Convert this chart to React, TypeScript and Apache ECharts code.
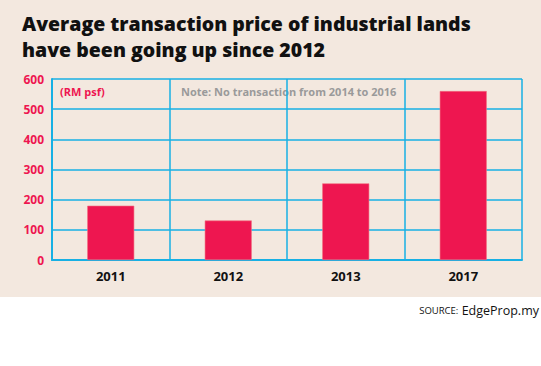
import React, { useEffect, useRef } from "react";
import * as echarts from "echarts";

const categories = ["2011", "2012", "2013", "2017"];
const prices = [180, 131, 254, 560];
const yTicks = [0, 100, 200, 300, 400, 500, 600];

export default function App() {
  const ref = useRef<HTMLDivElement>(null);
  useEffect(() => {
    document.body.style.margin = "0";
    const chart = echarts.init(ref.current!, null, { renderer: "svg" });
    const blue = "#17b0e4";
    chart.setOption({
      animation: false,
      backgroundColor: "#ffffff",
      graphic: [
        { type: "rect", z: -10, shape: { x: 0, y: 0, width: 541, height: 297 }, style: { fill: "#f3e8df" } },
        { type: "text", left: 22, top: 12, style: { text: "Average transaction price of industrial lands", font: "800 19.5px 'Open Sans'", fill: "#111", lineHeight: 22 } },
        { type: "text", left: 22, top: 38, style: { text: "have been going up since 2012", font: "800 19.5px 'Open Sans'", fill: "#111", lineHeight: 22 } },
        { type: "text", left: 60, top: 86, style: { text: "(RM psf)", font: "bold 11px 'Open Sans'", fill: "#ee1650" } },
        { type: "text", left: 181, top: 86, style: { text: "Note: No transaction from 2014 to 2016", font: "bold 11px 'Open Sans'", fill: "#9a9a9a" } },
        { type: "text", right: 2, top: 304, style: { rich: { a: { font: "9.5px 'Open Sans'", fill: "#111" }, b: { font: "12.5px 'Open Sans'", fill: "#111" } }, text: "{a|SOURCE:} {b|EdgeProp.my}" } },
      ],
      grid: { left: 52, top: 79, right: 19, bottom: 106, containLabel: false },
      xAxis: {
        type: "category",
        data: categories,
        axisLine: { show: true, lineStyle: { color: blue, width: 2 } },
        axisTick: { show: false },
        splitLine: { show: true, interval: 0, lineStyle: { color: blue, width: 1.5 } },
        axisLabel: { color: "#111", fontWeight: "bold", fontSize: 13, fontFamily: "'Open Sans'", margin: 9 },
        boundaryGap: true,
      },
      yAxis: {
        type: "value",
        min: 0,
        max: 600,
        interval: 100,
        axisLine: { show: true, lineStyle: { color: blue, width: 2 } },
        axisTick: { show: false },
        splitLine: { show: true, lineStyle: { color: blue, width: 1.5 } },
        axisLabel: { color: "#ee1650", fontWeight: "bold", fontSize: 12, fontFamily: "'Open Sans'", margin: 8, formatter: (v: number) => (yTicks.includes(v) ? String(v) : "") },
      },
      series: [
        {
          type: "bar",
          data: prices,
          barWidth: "40%",
          itemStyle: { color: "#ee1650", borderColor: "#f2707f", borderWidth: 0.6 },
        },
      ],
    });
    return () => chart.dispose();
  }, []);
  return <div ref={ref} style={{ width: 541, height: 366 }} />;
}
